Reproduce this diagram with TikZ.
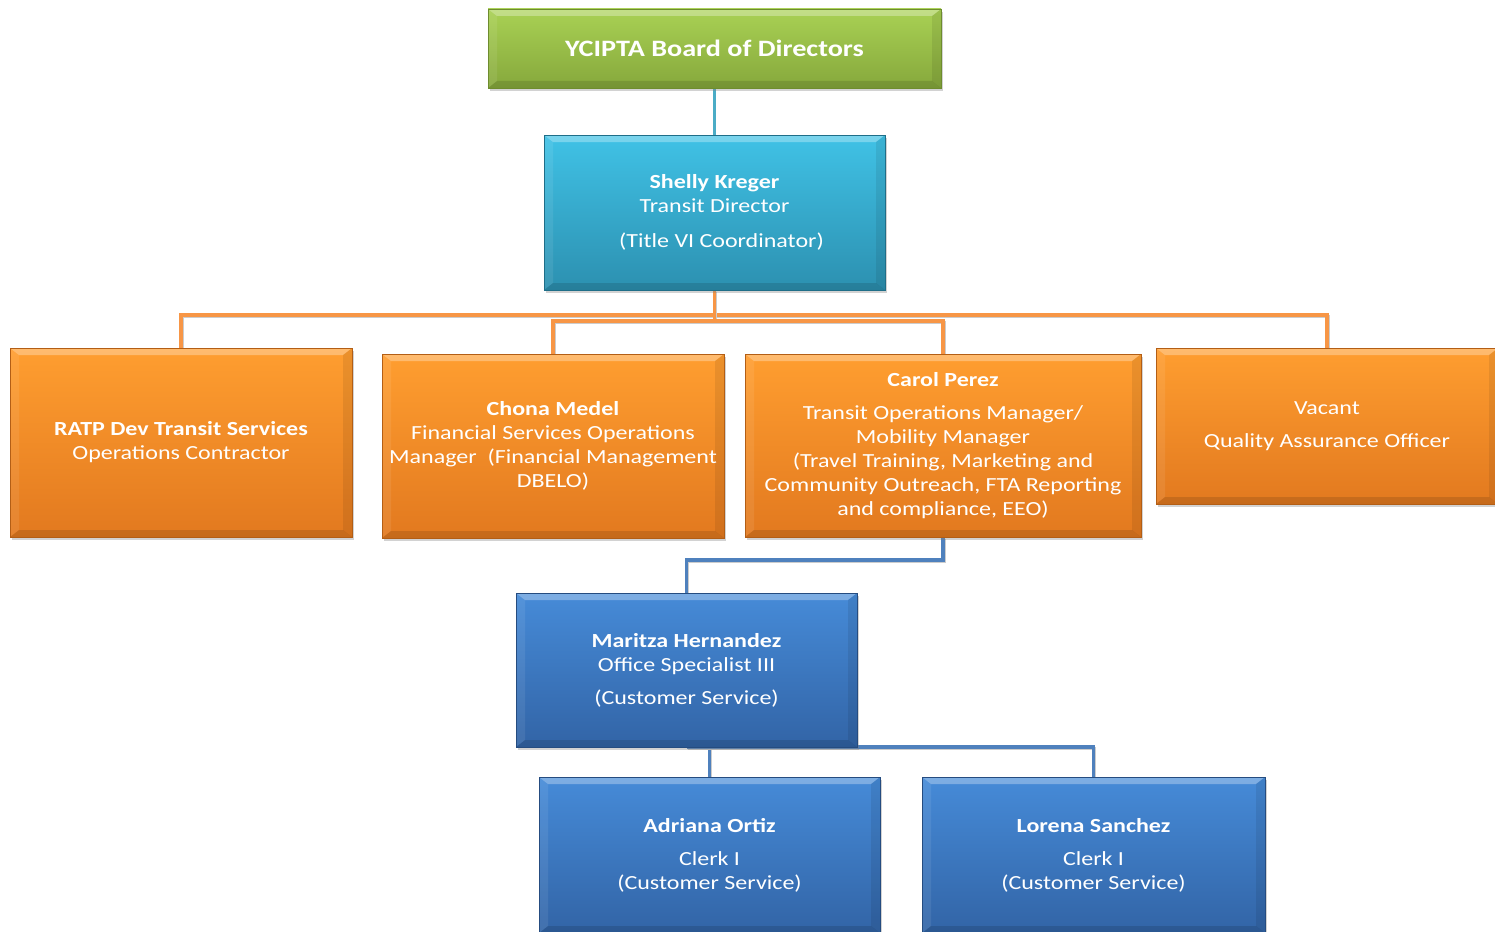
\documentclass[tikz,border=0pt]{standalone}
\usepackage{fontspec}
\setmainfont{Carlito}[FakeStretch=1.2]
\usetikzlibrary{shadows,backgrounds,calc}
\pgfdeclarelayer{paper}
\pgfsetlayers{paper,background,main}
\definecolor{gtop}{HTML}{A9D154}
\definecolor{gbot}{HTML}{86A83C}
\definecolor{gdark}{HTML}{6E8C2E}
\definecolor{ctop}{HTML}{40C2E6}
\definecolor{cbot}{HTML}{2C90B0}
\definecolor{cdark}{HTML}{1F6E88}
\definecolor{otop}{HTML}{FF9E30}
\definecolor{obot}{HTML}{E2791F}
\definecolor{odark}{HTML}{B35E15}
\definecolor{btop}{HTML}{468BD8}
\definecolor{bbot}{HTML}{3264A6}
\definecolor{bdark}{HTML}{254C80}
\definecolor{lteal}{HTML}{4BACC6}
\definecolor{lorange}{HTML}{F79646}
\definecolor{lblue}{HTML}{4F81BD}
\tikzset{
  x=1pt,y=-1pt,
  orgbox/.style={rectangle,inner sep=0pt,outer sep=0pt,text=white,align=center,
    font=\fontsize{20}{24}\selectfont,
    drop shadow={shadow xshift=2pt,shadow yshift=-3pt,opacity=0.35},
    path picture={
      \fill[white,opacity=0.30] (path picture bounding box.north west) -- (path picture bounding box.north east)
        -- ($(path picture bounding box.north east)+(-9pt,-7pt)$) -- ($(path picture bounding box.north west)+(9pt,-7pt)$) -- cycle;
      \fill[black,opacity=0.12] (path picture bounding box.south west) -- (path picture bounding box.south east)
        -- ($(path picture bounding box.south east)+(-9pt,7pt)$) -- ($(path picture bounding box.south west)+(9pt,7pt)$) -- cycle;
      \fill[black,opacity=0.08] (path picture bounding box.north east) -- (path picture bounding box.south east)
        -- ($(path picture bounding box.south east)+(-9pt,7pt)$) -- ($(path picture bounding box.north east)+(-9pt,-7pt)$) -- cycle;
      \fill[white,opacity=0.08] (path picture bounding box.north west) -- (path picture bounding box.south west)
        -- ($(path picture bounding box.south west)+(9pt,7pt)$) -- ($(path picture bounding box.north west)+(9pt,-7pt)$) -- cycle;
    }},
  greenbox/.style={orgbox,top color=gtop,bottom color=gbot,draw=gdark,line width=0.8pt},
  cyanbox/.style={orgbox,top color=ctop,bottom color=cbot,draw=cdark,line width=0.8pt},
  orangebox/.style={orgbox,top color=otop,bottom color=obot,draw=odark,line width=0.8pt},
  bluebox/.style={orgbox,top color=btop,bottom color=bbot,draw=bdark,line width=0.8pt},
  conn/.style={line width=3.5pt},
  tealline/.style={conn,draw=lteal},
  orangeline/.style={conn,draw=lorange,preaction={draw=black!20,line width=3.5pt,transform canvas={xshift=1pt,yshift=-1.5pt}}},
  blueline/.style={conn,draw=lblue,preaction={draw=black!20,line width=3.5pt,transform canvas={xshift=1pt,yshift=-1.5pt}}},
}
\begin{document}
\begin{tikzpicture}
\useasboundingbox (0,0) rectangle (1495,931);
\clip (0,0) rectangle (1495,931);
\begin{pgfonlayer}{paper}
\fill[white] (0,0) rectangle (1495,931);
\end{pgfonlayer}

\node[greenbox,minimum width=453,minimum height=79,font=\bfseries\fontsize{23.5}{27}\selectfont] (board) at (714.5,48.5) {YCIPTA Board of Directors};

\node[cyanbox,minimum width=341,minimum height=155] (shelly) at (714.5,212.5)
  {\textbf{Shelly Kreger}\\Transit Director\\[11pt]\hspace*{14pt}(Title VI Coordinator)};

\node[orangebox,minimum width=342,minimum height=189] (ratp) at (181,442.5)
  {\textbf{RATP Dev Transit Services}\\Operations Contractor};

\node[orangebox,minimum width=342,minimum height=184] (chona) at (553,446)
  {\textbf{Chona Medel}\\Financial Services Operations\\Manager \ (Financial Management\\DBELO)};

\node[orangebox,minimum width=396,minimum height=183] (carol) at (943,445.5)
  {\textbf{Carol Perez}\\[9pt]Transit Operations Manager/\\Mobility Manager\\(Travel Training, Marketing and\\Community Outreach, FTA Reporting\\and compliance, EEO)};

\node[orangebox,minimum width=342,minimum height=156] (vacant) at (1327,426)
  {Vacant\\[9pt]Quality Assurance Officer};

\node[bluebox,minimum width=341,minimum height=154] (maritza) at (686.5,670)
  {\textbf{Maritza Hernandez}\\Office Specialist III\\[9pt](Customer Service)};

\node[bluebox,minimum width=341,minimum height=156] (adriana) at (709.5,855)
  {\textbf{Adriana Ortiz}\\[9pt]Clerk I\\(Customer Service)};

\node[bluebox,minimum width=343,minimum height=156] (lorena) at (1093.5,855)
  {\textbf{Lorena Sanchez}\\[9pt]Clerk I\\(Customer Service)};

\begin{pgfonlayer}{background}
\draw[tealline] (board.south) -- (shelly.north);
\draw[orangeline] (shelly.south) -- ++(0,25) -| (ratp.north);
\draw[orangeline] (shelly.south) -- ++(0,25) -| (vacant.north);
\draw[orangeline] (shelly.south) -- ++(0,31) -| (chona.north);
\draw[orangeline] (shelly.south) -- ++(0,31) -| (carol.north);
\draw[blueline] (carol.south) -- ++(0,23) -| (maritza.north);
\draw[blueline] (maritza.south -| adriana.north) -- (adriana.north);
\draw[blueline] (maritza.south) -| (lorena.north);
\end{pgfonlayer}
\end{tikzpicture}
\end{document}
